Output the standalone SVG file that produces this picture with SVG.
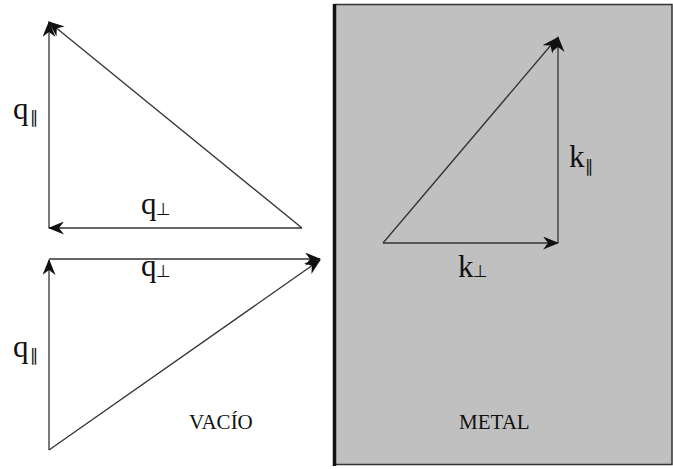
<svg xmlns="http://www.w3.org/2000/svg" width="673" height="469" viewBox="0 0 673 469">
<style>
.ln{stroke:#333;stroke-width:1.3;fill:none}
.sym{font-family:"Liberation Serif","Times New Roman",serif;font-size:31px;fill:#111}
.sub{font-family:"DejaVu Sans","Liberation Serif",sans-serif;font-size:17px;fill:#111}
.cap{font-family:"Liberation Serif","Times New Roman",serif;font-size:21px;fill:#111}
</style>
<defs>
<marker id="ah" viewBox="0 0 16 13" refX="15" refY="6.5" markerWidth="16" markerHeight="13" markerUnits="userSpaceOnUse" orient="auto">
<path d="M0,0 L16,6.5 L0,13 L5,6.5 z" fill="#111"/>
</marker>
</defs>
<rect width="673" height="469" fill="#fff"/>
<g id="metal-region">
<rect x="335" y="4.5" width="337" height="460" fill="#c0c0c0" stroke="#333" stroke-width="1.5"/>
<line x1="334.5" y1="4" x2="334.5" y2="466" stroke="#111" stroke-width="3.5"/>
</g>
<g id="connectors">
<line class="ln" x1="302" y1="228" x2="49" y2="22" marker-end="url(#ah)"/>
<line class="ln" x1="49" y1="228" x2="49" y2="22" marker-end="url(#ah)"/>
<line class="ln" x1="302" y1="228" x2="49" y2="228" marker-end="url(#ah)"/>
<line class="ln" x1="49" y1="450" x2="49" y2="260" marker-end="url(#ah)"/>
<line class="ln" x1="49" y1="259" x2="320" y2="259" marker-end="url(#ah)"/>
<line class="ln" x1="49" y1="450" x2="320" y2="260" marker-end="url(#ah)"/>
<line class="ln" x1="383" y1="243" x2="558" y2="243" marker-end="url(#ah)"/>
<line class="ln" x1="558" y1="243" x2="558" y2="37" marker-end="url(#ah)"/>
<line class="ln" x1="383" y1="243" x2="557" y2="38" marker-end="url(#ah)"/>
</g>
<g id="label-q-par-top"><text class="sym" x="13" y="119">q</text><text class="sub" x="30" y="123">∥</text></g>
<g id="label-q-perp-top"><text class="sym" x="141" y="214">q</text><text class="sub" x="156" y="215">⊥</text></g>
<g id="label-q-perp-bottom"><text class="sym" x="141" y="276">q</text><text class="sub" x="156" y="277">⊥</text></g>
<g id="label-q-par-bottom"><text class="sym" x="13" y="357">q</text><text class="sub" x="30" y="361">∥</text></g>
<g id="label-k-par"><text class="sym" x="569" y="167">k</text><text class="sub" x="585" y="172">∥</text></g>
<g id="label-k-perp"><text class="sym" x="458" y="277">k</text><text class="sub" x="473" y="277">⊥</text></g>
<g id="label-vacio"><text class="cap" x="189" y="429">VACÍO</text></g>
<g id="label-metal"><text class="cap" x="459" y="429">METAL</text></g>
</svg>
